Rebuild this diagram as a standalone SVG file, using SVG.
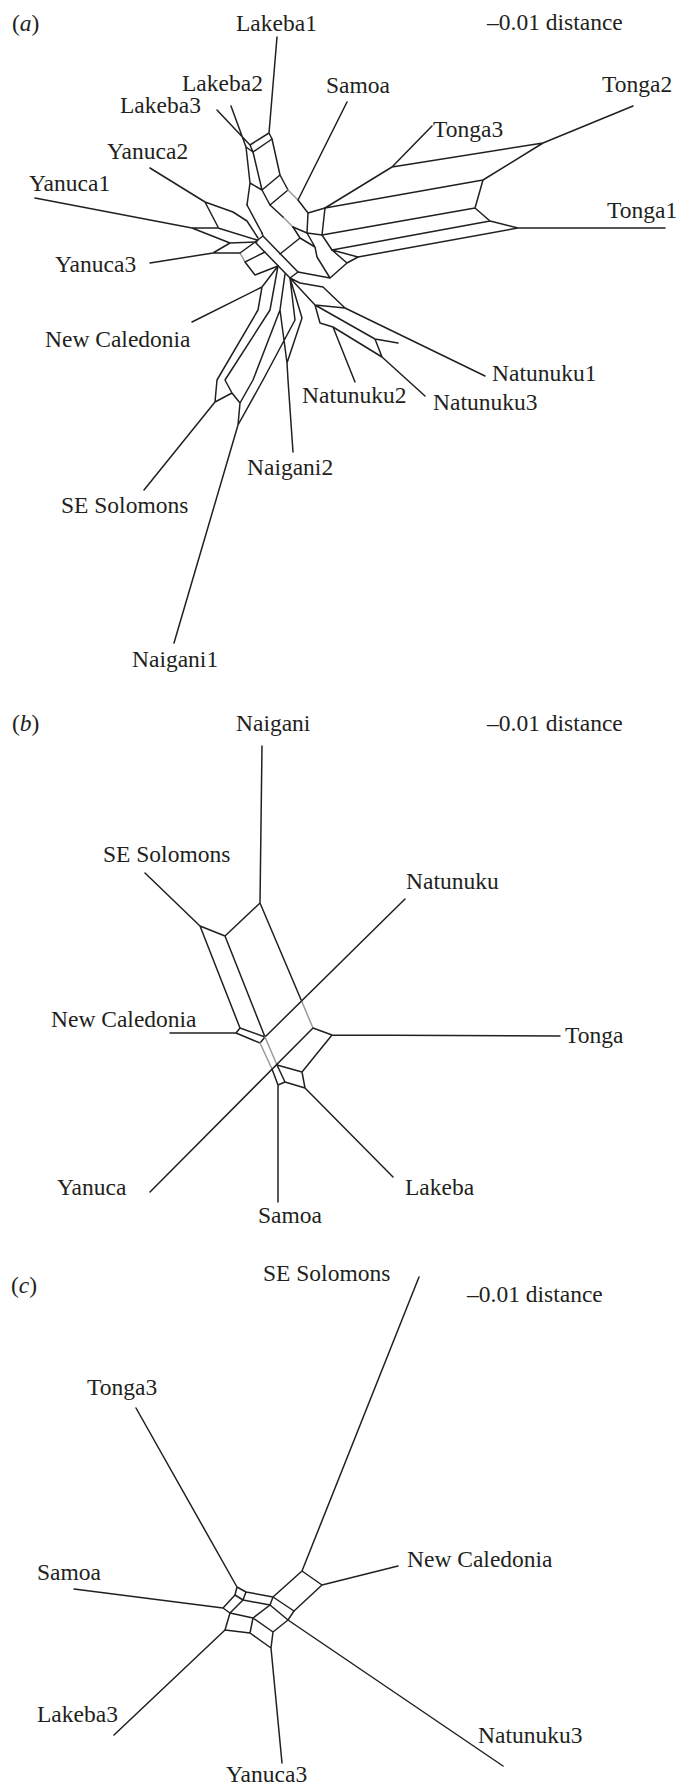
<svg xmlns="http://www.w3.org/2000/svg" width="678" height="1787" viewBox="0 0 678 1787">
<style>
text { font-family: "Liberation Serif", "Times New Roman", serif; font-size: 23.5px; fill: #231f20; }
.e { fill: none; stroke: #231f20; stroke-width: 1.5; stroke-linejoin: round; stroke-linecap: round; }
.g { fill: none; stroke: #9a9a9a; stroke-width: 1.5; stroke-linecap: round; }
</style>
<rect width="678" height="1787" fill="#ffffff"/>

<g id="connectors">
<!-- panel a -->
<g id="edges-a">
<path class="e" d="M277,37 L269,133 M231,106 L246,147 M217,110 L250,145 M250,145 L269,133 L272,139 L253,152 L250,145 M246,147 L253,152"/>
<path class="e" d="M246,147 L250,183 L247,205 M253,152 L262,190 L270,205 M272,139 L280,175 L288,190 M280,175 L262,190 M288,190 L270,205 M250,183 L262,190"/>
<path class="g" d="M288,190 L298,200 M283,217 L293,227 M240,253 L245,262"/>
<path class="e" d="M347,102 L298,200 L308,213 L325,208 M308,213 L307,233 M270,205 L283,217 M293,227 L307,233 M247,205 L262,233"/>
<path class="e" d="M150,168 L205,202 L218,227 M205,202 L233,212 L247,221 L258,238 M35,198 L192,228 L218,228 L257,240 M192,228 L230,243 L257,242 M150,263 L213,253 L230,243 M213,253 L240,253 L258,240"/>
<path class="e" d="M255,242 L290,278 M263,236 L298,272 M255,242 L263,236 M290,278 L298,272 M262,233 L263,236"/>
<path class="e" d="M245,262 L265,252 M245,262 L255,275 L278,266"/>
<path class="e" d="M280,254 L300,238 L293,227 M300,238 L315,247 L307,233 M307,233 L322,235 L325,208 M322,235 L332,250 L358,257 M315,247 L317,257 L330,278 L347,263 L358,257 M332,250 L347,263 M298,272 L330,278"/>
<path class="e" d="M325,208 L483,180 L475,208 L490,221 L518,228 L665,228 M322,235 L475,208 M332,250 L490,221 M358,257 L518,228 M325,208 L392,167 L543,143 L633,106 M392,167 L432,126 M483,180 L543,143"/>
<path class="e" d="M290,278 L300,283 L323,287 L345,308 L485,376 M290,278 L315,305 L345,308 M315,305 L375,339 L398,343 M315,305 L320,323 L333,327 L382,357 L425,396 M375,339 L382,357 M333,327 L355,382"/>
<path class="e" d="M278,266 L262,287 L192,322 M262,287 L258,310 L217,380 L215,402 L144,490 M278,266 L270,310 L225,380 L232,393 M215,402 L232,393 L240,403 L238,425 L174,643 M285,274 L280,310 L253,380 L240,403 M290,278 L295,320 L263,380 L238,425 M290,278 L302,318 L287,363 L288,380 L293,452 M280,310 L287,363"/>
</g>
<!-- panel b -->
<g id="edges-b">
<path class="e" d="M262,746 L260,903 M145,873 L200,926 M200,926 L225,936 L260,903 M200,926 L240,1028 L236,1033 L260,1043 L265,1037 L240,1028 M225,936 L265,1037 M260,903 L302,1002 M405,899 L265,1037 M170,1033 L236,1033"/>
<path class="g" d="M302,1002 L313,1028 M265,1037 L277,1065 M260,1043 L272,1069"/>
<path class="e" d="M150,1192 L313,1028 L332,1035 L560,1036 M277,1065 L302,1072 L305,1088 L285,1082 L277,1065 M272,1069 L278,1085 L285,1082 M278,1085 L278,1202 M305,1088 L393,1177 M302,1072 L332,1035"/>
</g>
<!-- panel c -->
<g id="edges-c">
<path class="e" d="M136,1408 L237,1587 L246,1592 L243,1600 L235,1595 L237,1587 M246,1592 L273,1597 L270,1605 L243,1600 M273,1597 L302,1571 L322,1585 L294,1611 L273,1597 M302,1571 L419,1277 M322,1585 L398,1566"/>
<path class="e" d="M270,1605 L288,1620 L294,1611 M288,1620 L503,1766 M235,1595 L223,1608 L74,1589 M223,1608 L230,1613 L253,1618 L270,1605 M243,1600 L230,1613 M230,1613 L225,1630 L114,1735 M225,1630 L250,1633 L253,1618 L273,1632 L288,1620 M250,1633 L271,1648 L273,1632 M271,1648 L282,1763"/>
</g>
</g>

<g id="labels-a">
<g id="a-title"><text x="12" y="31">(<tspan font-style="italic">a</tspan>)</text></g>
<g id="a-scale"><text x="487" y="30">–0.01 distance</text></g>
<g id="a-lakeba1"><text x="236" y="31">Lakeba1</text></g>
<g id="a-lakeba2"><text x="182" y="91">Lakeba2</text></g>
<g id="a-lakeba3"><text x="120" y="113">Lakeba3</text></g>
<g id="a-samoa"><text x="326" y="93">Samoa</text></g>
<g id="a-tonga2"><text x="602" y="92">Tonga2</text></g>
<g id="a-tonga3"><text x="433" y="137">Tonga3</text></g>
<g id="a-tonga1"><text x="607" y="218">Tonga1</text></g>
<g id="a-yanuca2"><text x="107" y="159">Yanuca2</text></g>
<g id="a-yanuca1"><text x="29" y="191">Yanuca1</text></g>
<g id="a-yanuca3"><text x="55" y="272">Yanuca3</text></g>
<g id="a-newcal"><text x="45" y="347">New Caledonia</text></g>
<g id="a-natunuku1"><text x="492" y="381">Natunuku1</text></g>
<g id="a-natunuku2"><text x="302" y="403">Natunuku2</text></g>
<g id="a-natunuku3"><text x="433" y="410">Natunuku3</text></g>
<g id="a-naigani2"><text x="247" y="475">Naigani2</text></g>
<g id="a-sesol"><text x="61" y="513">SE Solomons</text></g>
<g id="a-naigani1"><text x="132" y="667">Naigani1</text></g>
</g>

<g id="labels-b">
<g id="b-title"><text x="12" y="731">(<tspan font-style="italic">b</tspan>)</text></g>
<g id="b-naigani"><text x="236" y="731">Naigani</text></g>
<g id="b-scale"><text x="487" y="731">–0.01 distance</text></g>
<g id="b-sesol"><text x="103" y="862">SE Solomons</text></g>
<g id="b-natunuku"><text x="406" y="889">Natunuku</text></g>
<g id="b-newcal"><text x="51" y="1027">New Caledonia</text></g>
<g id="b-tonga"><text x="565" y="1043">Tonga</text></g>
<g id="b-yanuca"><text x="57" y="1195">Yanuca</text></g>
<g id="b-lakeba"><text x="405" y="1195">Lakeba</text></g>
<g id="b-samoa"><text x="258" y="1223">Samoa</text></g>
</g>

<g id="labels-c">
<g id="c-title"><text x="11" y="1293">(<tspan font-style="italic">c</tspan>)</text></g>
<g id="c-sesol"><text x="263" y="1281">SE Solomons</text></g>
<g id="c-scale"><text x="467" y="1302">–0.01 distance</text></g>
<g id="c-tonga3"><text x="87" y="1395">Tonga3</text></g>
<g id="c-samoa"><text x="37" y="1580">Samoa</text></g>
<g id="c-newcal"><text x="407" y="1567">New Caledonia</text></g>
<g id="c-lakeba3"><text x="37" y="1722">Lakeba3</text></g>
<g id="c-natunuku3"><text x="478" y="1743">Natunuku3</text></g>
<g id="c-yanuca3"><text x="226" y="1782">Yanuca3</text></g>
</g>
</svg>
